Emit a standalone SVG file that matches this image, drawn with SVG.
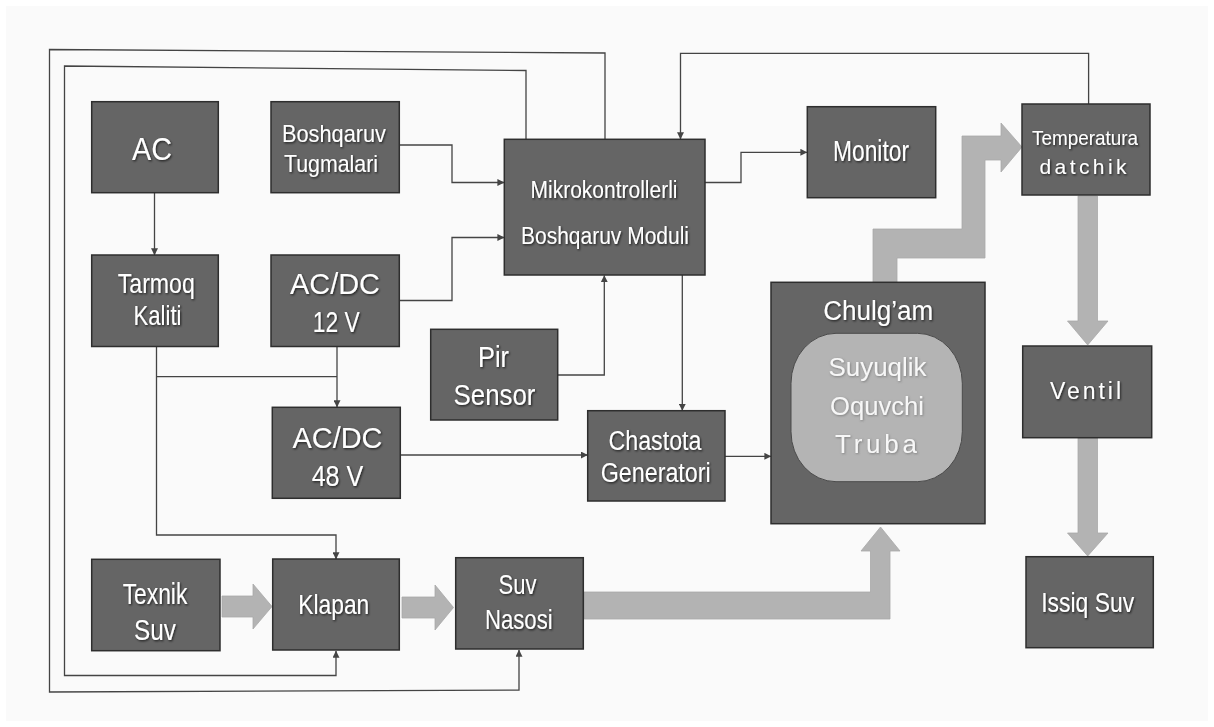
<svg xmlns="http://www.w3.org/2000/svg" width="1214" height="727" viewBox="0 0 1214 727">
<defs>
<style>
.box{fill:#656565;stroke:#2e2e2e;stroke-width:1.5}
.t{fill:#ffffff;font-family:"Liberation Sans Narrow","Liberation Sans",Arial,sans-serif;text-anchor:middle;filter:url(#sh)}
.tl{fill:#f7f7f7;font-family:"Liberation Sans Narrow","Liberation Sans",Arial,sans-serif;text-anchor:middle;filter:url(#sh2)}
.w{fill:none;stroke:#444;stroke-width:1.3}
.wa{fill:none;stroke:#444;stroke-width:1.3;marker-end:url(#ah)}
.fat{fill:#b3b3b3;stroke:#a8a8a8;stroke-width:0.8}
</style>
<filter id="sh" x="-10%" y="-30%" width="120%" height="160%">
<feDropShadow dx="1" dy="1.2" stdDeviation="0.9" flood-color="#000" flood-opacity="0.7"/>
</filter>
<filter id="sh2" x="-10%" y="-30%" width="120%" height="160%">
<feDropShadow dx="0.8" dy="0.9" stdDeviation="0.8" flood-color="#555" flood-opacity="0.6"/>
</filter>
<marker id="ah" viewBox="0 0 10 10" refX="9.5" refY="5" markerWidth="7" markerHeight="7" markerUnits="userSpaceOnUse" orient="auto">
<path d="M0,0 L10,5 L0,10 z" fill="#444"/>
</marker>
<marker id="ahs" viewBox="0 0 10 10" refX="0.5" refY="5" markerWidth="7" markerHeight="7" markerUnits="userSpaceOnUse" orient="auto-start-reverse">
<path d="M0,0 L10,5 L0,10 z" fill="#444"/>
</marker>
</defs>
<rect x="0" y="0" width="1214" height="727" fill="#ffffff"/>
<rect x="6" y="6" width="1202" height="715" fill="#fafafa"/>

<g id="connectors">
<path class="wa" d="M605,139 V53 L49.5,49.5 V692 L519,690 V650"/>
<path class="wa" d="M526,139 V70.5 L64.5,66 V675.5 H336 V651"/>
<path class="wa" d="M154.5,193 V255"/>
<path class="wa" d="M399.5,145 H452 V182.5 H504"/>
<path class="wa" d="M399.5,300.5 H452 V237.5 H504"/>
<path class="wa" d="M705,182.5 H741 V152.3 H807"/>
<path class="wa" d="M1088.6,104 V53.3 H680.5 V139"/>
<path class="wa" d="M557.5,375 H604.3 V275.5"/>
<path class="wa" d="M682.3,275 V410.5"/>
<path class="wa" d="M400.5,455 H587.5"/>
<path class="wa" d="M725,456.3 H771"/>
<path class="wa" d="M156.5,346.5 V535 H336 V559"/>
<path class="w" d="M156.5,376.7 H337"/>
<path class="wa" style="marker-start:url(#ahs)" d="M337,347 V407"/>
<polygon class="fat" points="222,596 253,596 253,584 272,606.5 253,629 253,617 222,617"/>
<polygon class="fat" points="402,597 435,597 435,585 453.5,607.5 435,630 435,618 402,618"/>
<polygon class="fat" points="584,592 870.5,592 870.5,551 861,551 880.5,527 900,551 890,551 890,619 584,619"/>
<polygon class="fat" points="873,283 873,229 962,229 962,136 1001,136 1001,123 1022,147 1001,172 1001,160 985,160 985,258 897,258 897,283"/>
<polygon class="fat" points="1078,196 1097.5,196 1097.5,321 1108,321 1087.7,345 1067.5,321 1078,321"/>
<polygon class="fat" points="1078,438 1097.5,438 1097.5,533 1108,533 1087.7,556 1067.5,533 1078,533"/>
</g>

<g id="ac">
<rect class="box" x="91.7" y="101.7" width="126.6" height="91"/>
<text class="t" x="152" y="159.5" font-size="31" textLength="40" lengthAdjust="spacingAndGlyphs">AC</text>
</g>
<g id="boshqaruv-tugmalari">
<rect class="box" x="271" y="101.7" width="128.3" height="91"/>
<text class="t" x="334" y="141.7" font-size="24" textLength="104" lengthAdjust="spacingAndGlyphs">Boshqaruv</text>
<text class="t" x="331" y="171.7" font-size="24" textLength="94" lengthAdjust="spacingAndGlyphs">Tugmalari</text>
</g>
<g id="mikrokontroller">
<rect class="box" x="504.3" y="139.3" width="200.7" height="135.7"/>
<text class="t" x="604" y="197.7" font-size="23" textLength="147" lengthAdjust="spacingAndGlyphs">Mikrokontrollerli</text>
<text class="t" x="605" y="244.3" font-size="23" textLength="168" lengthAdjust="spacingAndGlyphs">Boshqaruv Moduli</text>
</g>
<g id="monitor">
<rect class="box" x="807.3" y="106.7" width="128.4" height="91"/>
<text class="t" x="871" y="161" font-size="29" textLength="76" lengthAdjust="spacingAndGlyphs">Monitor</text>
</g>
<g id="temperatura">
<rect class="box" x="1022" y="104" width="128" height="91"/>
<text class="t" x="1085" y="145" font-size="21" textLength="106" lengthAdjust="spacingAndGlyphs">Temperatura</text>
<text class="t" x="1083" y="174" font-size="21" textLength="87" lengthAdjust="spacing">datchik</text>
</g>
<g id="tarmoq-kaliti">
<rect class="box" x="91.7" y="255" width="126.6" height="91.5"/>
<text class="t" x="156.3" y="293.3" font-size="28" textLength="77" lengthAdjust="spacingAndGlyphs">Tarmoq</text>
<text class="t" x="157.5" y="325" font-size="28" textLength="48" lengthAdjust="spacingAndGlyphs">Kaliti</text>
</g>
<g id="acdc-12v">
<rect class="box" x="271" y="255" width="128.3" height="91.5"/>
<text class="t" x="335" y="294" font-size="30" textLength="90" lengthAdjust="spacingAndGlyphs">AC/DC</text>
<text class="t" x="336.3" y="331.7" font-size="30" textLength="47" lengthAdjust="spacingAndGlyphs">12 V</text>
</g>
<g id="pir-sensor">
<rect class="box" x="430.7" y="329.3" width="127" height="90.7"/>
<text class="t" x="493.5" y="366.7" font-size="30" textLength="31" lengthAdjust="spacingAndGlyphs">Pir</text>
<text class="t" x="494.5" y="405" font-size="30" textLength="82" lengthAdjust="spacingAndGlyphs">Sensor</text>
</g>
<g id="acdc-48v">
<rect class="box" x="272.3" y="407.3" width="128" height="91"/>
<text class="t" x="337.5" y="448.3" font-size="30" textLength="90" lengthAdjust="spacingAndGlyphs">AC/DC</text>
<text class="t" x="337.5" y="486" font-size="30" textLength="51.7" lengthAdjust="spacingAndGlyphs">48 V</text>
</g>
<g id="chastota-generatori">
<rect class="box" x="587.7" y="410.7" width="137.3" height="90.3"/>
<text class="t" x="655" y="450" font-size="27" textLength="93" lengthAdjust="spacingAndGlyphs">Chastota</text>
<text class="t" x="655.7" y="481.7" font-size="27" textLength="110" lengthAdjust="spacingAndGlyphs">Generatori</text>
</g>
<g id="chulgam">
<rect class="box" x="771" y="282.3" width="214" height="241.4"/>
<text class="t" x="878.3" y="320" font-size="27" textLength="110" lengthAdjust="spacingAndGlyphs">Chulg’am</text>
<rect x="791" y="333.3" width="171.3" height="148.4" rx="45" ry="50" fill="#b4b4b4" stroke="#4a4a4a" stroke-width="1"/>
<text class="tl" x="877.5" y="376" font-size="26" textLength="98" lengthAdjust="spacingAndGlyphs">Suyuqlik</text>
<text class="tl" x="877" y="415" font-size="26" textLength="94" lengthAdjust="spacingAndGlyphs">Oquvchi</text>
<text class="tl" x="876" y="453" font-size="26" textLength="82" lengthAdjust="spacing">Truba</text>
</g>
<g id="ventil">
<rect class="box" x="1022.7" y="346" width="129" height="91.7"/>
<text class="t" x="1085.5" y="399" font-size="23" textLength="71" lengthAdjust="spacing">Ventil</text>
</g>
<g id="issiq-suv">
<rect class="box" x="1026" y="556.7" width="127.3" height="91"/>
<text class="t" x="1087.7" y="611.7" font-size="28" textLength="93" lengthAdjust="spacingAndGlyphs">Issiq Suv</text>
</g>
<g id="texnik-suv">
<rect class="box" x="91.7" y="559.3" width="128.3" height="91.4"/>
<text class="t" x="155" y="604.3" font-size="29" textLength="64.7" lengthAdjust="spacingAndGlyphs">Texnik</text>
<text class="t" x="155" y="640" font-size="29" textLength="42" lengthAdjust="spacingAndGlyphs">Suv</text>
</g>
<g id="klapan">
<rect class="box" x="272.7" y="559" width="126.6" height="91"/>
<text class="t" x="333.8" y="614.3" font-size="28" textLength="71" lengthAdjust="spacingAndGlyphs">Klapan</text>
</g>
<g id="suv-nasosi">
<rect class="box" x="455.7" y="557.7" width="127.6" height="91.3"/>
<text class="t" x="517.5" y="594" font-size="28" textLength="38" lengthAdjust="spacingAndGlyphs">Suv</text>
<text class="t" x="518.8" y="629.3" font-size="28" textLength="67.7" lengthAdjust="spacingAndGlyphs">Nasosi</text>
</g>
</svg>
